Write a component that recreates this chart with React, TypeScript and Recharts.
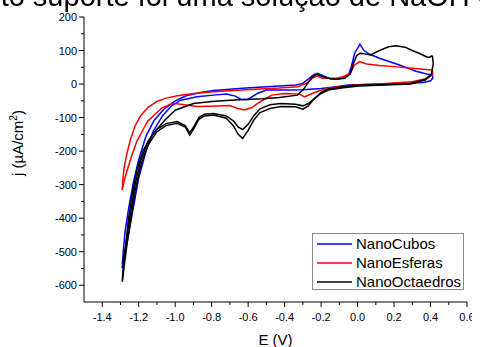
import { LineChart, Line, XAxis, YAxis, Legend } from "recharts";

const FONT = '"Liberation Sans", Arial, sans-serif';

// eixo x (E / V) e eixo y (j / µA cm-2)
const xTicks = [-1.4, -1.3, -1.2, -1.1, -1.0, -0.9, -0.8, -0.7, -0.6, -0.5, -0.4, -0.3, -0.2, -0.1, 0.0, 0.1, 0.2, 0.3, 0.4, 0.5, 0.6];
const yTicks = [-600, -550, -500, -450, -400, -350, -300, -250, -200, -150, -100, -50, 0, 50, 100, 150, 200];

// NanoCubos: varredura catódica (0.41 -> -1.29) e anódica (volta)
const cubosLower = [
  [0.41, 27], [0.413, 18], [0.4, 10], [0.36, 5], [0.3, 3], [0.15, 0], [-0.05, -3], [-0.15, -10],
  [-0.2, -13], [-0.3, -17], [-0.4, -18], [-0.5, -18], [-0.55, -28], [-0.6, -46], [-0.64, -45],
  [-0.67, -36], [-0.72, -30], [-0.79, -33], [-0.88, -38], [-0.97, -48], [-1.02, -65], [-1.07, -95],
  [-1.12, -140], [-1.16, -200], [-1.2, -280], [-1.23, -370], [-1.26, -460], [-1.28, -525], [-1.29, -549],
];
const cubosUpper = [
  [-1.29, -549], [-1.285, -500], [-1.275, -440], [-1.255, -370], [-1.228, -290], [-1.2, -225],
  [-1.16, -155], [-1.115, -108], [-1.06, -74], [-1.0, -50], [-0.94, -35], [-0.86, -25], [-0.79, -19],
  [-0.61, -12], [-0.43, -6], [-0.34, -3], [-0.3, 2], [-0.27, 15], [-0.24, 28], [-0.22, 32], [-0.19, 25],
  [-0.15, 16], [-0.11, 14], [-0.07, 20], [-0.05, 27], [-0.035, 50], [-0.016, 92], [0.013, 119],
  [0.035, 100], [0.07, 88], [0.12, 77], [0.23, 57], [0.32, 38], [0.38, 30], [0.41, 27],
];

// NanoEsferas
const esferasLower = [
  [0.41, 42], [0.412, 28], [0.38, 17], [0.3, 7], [0.16, 2], [-0.02, -3], [-0.16, -12], [-0.21, -20],
  [-0.25, -28], [-0.29, -38], [-0.32, -30], [-0.4, -28], [-0.47, -33], [-0.5, -42], [-0.54, -55],
  [-0.58, -70], [-0.62, -77], [-0.66, -72], [-0.7, -64], [-0.8, -66], [-0.88, -67], [-0.95, -62],
  [-1.01, -57], [-1.07, -70], [-1.11, -90], [-1.15, -110], [-1.18, -140], [-1.21, -170], [-1.24, -217],
  [-1.265, -260], [-1.285, -300], [-1.29, -316],
];
const esferasUpper = [
  [-1.29, -316], [-1.288, -290], [-1.28, -250], [-1.266, -210], [-1.245, -165], [-1.22, -125],
  [-1.19, -95], [-1.15, -70], [-1.1, -52], [-1.05, -42], [-0.98, -34], [-0.9, -28], [-0.79, -23],
  [-0.61, -17], [-0.43, -12], [-0.33, -8], [-0.28, 2], [-0.25, 17], [-0.225, 24], [-0.19, 17],
  [-0.12, 17], [-0.08, 22], [-0.04, 32], [-0.02, 55], [0.01, 67], [0.05, 60], [0.12, 55], [0.2, 52],
  [0.3, 47], [0.41, 42],
];

// NanoOctaedros (dois ciclos no ramo catódico)
const octaUpper = [
  [-1.29, -589], [-1.285, -545], [-1.275, -505], [-1.257, -405], [-1.238, -336], [-1.21, -256],
  [-1.175, -197], [-1.12, -147], [-1.056, -107], [-1.0, -78], [-0.9, -58], [-0.8, -52], [-0.7, -48],
  [-0.61, -46], [-0.52, -44], [-0.43, -40], [-0.33, -33], [-0.3, -18], [-0.28, -3], [-0.25, 20],
  [-0.225, 29], [-0.19, 22], [-0.15, 16], [-0.115, 14], [-0.07, 17], [-0.04, 30], [-0.02, 65],
  [-0.005, 85], [0.015, 92], [0.04, 90], [0.07, 87], [0.12, 100], [0.17, 111], [0.21, 114],
  [0.26, 110], [0.3, 100], [0.34, 91], [0.38, 81], [0.395, 80], [0.41, 85],
];
const octaLower1 = [
  [0.41, 85], [0.415, 60], [0.405, 30], [0.37, 14], [0.29, 2], [0.15, -1], [0.01, -3], [-0.08, -8],
  [-0.16, -15], [-0.2, -25], [-0.24, -45], [-0.27, -65], [-0.3, -75], [-0.34, -68], [-0.42, -67],
  [-0.48, -73], [-0.535, -85], [-0.57, -108], [-0.6, -138], [-0.63, -162], [-0.655, -150],
  [-0.68, -125], [-0.72, -102], [-0.79, -92], [-0.84, -95], [-0.87, -105], [-0.895, -130],
  [-0.92, -152], [-0.945, -128], [-0.99, -117], [-1.05, -124], [-1.1, -142], [-1.15, -183],
  [-1.19, -245], [-1.22, -320], [-1.245, -410], [-1.265, -480], [-1.28, -545], [-1.29, -589],
];
const octaLower2 = [
  [0.4, 25], [0.37, 12], [0.29, 0], [0.15, -3], [0.01, -6], [-0.08, -11], [-0.16, -18], [-0.2, -28],
  [-0.24, -45], [-0.27, -58], [-0.3, -65], [-0.34, -60], [-0.42, -58], [-0.48, -62], [-0.535, -74],
  [-0.57, -95], [-0.6, -120], [-0.63, -136], [-0.655, -128], [-0.68, -110], [-0.72, -95],
  [-0.79, -88], [-0.84, -90], [-0.87, -100], [-0.895, -125], [-0.92, -146], [-0.945, -124],
  [-0.99, -112], [-1.05, -118], [-1.1, -135], [-1.15, -172], [-1.19, -230], [-1.22, -300],
  [-1.245, -385], [-1.265, -455], [-1.28, -510], [-1.29, -534],
];

const legendNames = ["NanoCubos", "NanoEsferas", "NanoOctaedros"];
const legendColors = ["#0000ff", "#ff0000", "#000000"];

const toPts = (arr: number[][]) => arr.map(([E, j]) => ({ E, j }));

const series = [
  { key: "c1", data: cubosLower, color: legendColors[0] },
  { key: "c2", data: cubosUpper, color: legendColors[0] },
  { key: "e1", data: esferasLower, color: legendColors[1] },
  { key: "e2", data: esferasUpper, color: legendColors[1] },
  { key: "o1", data: octaUpper, color: legendColors[2] },
  { key: "o2", data: octaLower1, color: legendColors[2] },
  { key: "o3", data: octaLower2, color: legendColors[2] },
];

function YTick({ x, y, payload }: any) {
  const v = payload.value;
  const major = v % 100 === 0;
  return (
    <g>
      <line x1={x - (major ? 5 : 3)} x2={x} y1={y} y2={y} stroke="#000" />
      {major && (
        <text x={x - 7} y={y} dy={4} textAnchor="end" fontSize={11} fontFamily={FONT} fill="#000">
          {v}
        </text>
      )}
    </g>
  );
}

function XTick({ x, y, payload }: any) {
  const v = payload.value;
  const major = Math.abs(Math.round(v * 10)) % 2 === 0;
  return (
    <g>
      <line x1={x} x2={x} y1={y} y2={y + (major ? 5 : 3)} stroke="#000" />
      {major && (
        <text x={x} y={y + 19} textAnchor="middle" fontSize={11} fontFamily={FONT} fill="#000">
          {v.toFixed(1)}
        </text>
      )}
    </g>
  );
}

function LegendBox() {
  return (
    <div
      style={{
        width: 152,
        height: 57,
        boxSizing: "border-box",
        border: "1px solid #8c8c8c",
        background: "#fff",
        paddingLeft: 4,
        fontFamily: FONT,
        fontSize: 15,
        color: "#000",
      }}
    >
      {legendNames.map((name, i) => (
        <div key={name} style={{ display: "flex", alignItems: "center", height: 19 }}>
          <svg width={35} height={4} style={{ display: "block" }}>
            <line x1={0} x2={35} y1={2} y2={2} stroke={legendColors[i]} strokeWidth={1.5} />
          </svg>
          <span style={{ marginLeft: 4, lineHeight: "19px" }}>{name}</span>
        </div>
      ))}
    </div>
  );
}

export default function App() {
  return (
    <div style={{ position: "relative", width: 472, height: 339 }}>
      <LineChart width={472} height={339} margin={{ top: 9, right: 13, bottom: 0, left: 0 }}>
        <XAxis
          type="number"
          dataKey="E"
          domain={[-1.5, 0.6]}
          ticks={xTicks}
          interval={0}
          allowDataOverflow
          height={45}
          tickSize={0}
          tickMargin={0}
          tickLine={false}
          axisLine={{ stroke: "#000" }}
          tick={<XTick />}
          label={{ value: "E (V)", position: "insideBottom", offset: 2, fontSize: 15, fontFamily: FONT, fill: "#000" }}
        />
        <YAxis
          type="number"
          dataKey="j"
          domain={[-650, 200]}
          ticks={yTicks}
          interval={0}
          allowDataOverflow
          width={76}
          tickSize={0}
          tickMargin={0}
          tickLine={false}
          axisLine={{ stroke: "#000" }}
          tick={<YTick />}
          label={
            <text x={18} y={155} transform="rotate(-90 18 155)" textAnchor="middle" fontSize={15} fontFamily={FONT} fill="#000">
              j (µA/cm<tspan fontSize={10} dy={-6}>2</tspan><tspan dy={6}>)</tspan>
            </text>
          }
        />
        <Legend
          layout="vertical"
          align="center"
          verticalAlign="middle"
          wrapperStyle={{ left: 304, top: 225, width: 152 }}
          content={<LegendBox />}
        />
        {series.map((s) => (
          <Line
            key={s.key}
            data={toPts(s.data)}
            dataKey="j"
            type="linear"
            stroke={s.color}
            strokeWidth={1.5}
            dot={false}
            activeDot={false}
            isAnimationActive={false}
            legendType="none"
          />
        ))}
      </LineChart>
      {/* resto da linha de texto do documento, cortada no topo da imagem */}
      <div
        style={{
          position: "fixed",
          zIndex: 2,
          left: -30,
          top: -20,
          lineHeight: "33px",
          whiteSpace: "nowrap",
          fontFamily: FONT,
          fontSize: 29,
          color: "#000",
        }}
      >
        feito suporte foi uma solução de NaOH 0,1 M
      </div>
    </div>
  );
}
